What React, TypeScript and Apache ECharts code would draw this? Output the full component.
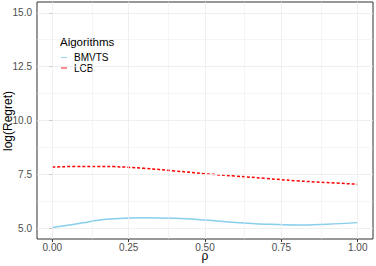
import React, { useEffect, useRef } from "react";
import * as echarts from "echarts";

const rho = [0, 0.1, 0.15, 0.2, 0.3, 0.4, 0.5, 0.6, 0.7, 0.8, 0.9, 1.0];
const bmvts = [5.03, 5.25, 5.37, 5.44, 5.49, 5.46, 5.38, 5.27, 5.19, 5.15, 5.19, 5.26];
const lcb = [7.84, 7.87, 7.87, 7.86, 7.78, 7.66, 7.53, 7.42, 7.31, 7.2, 7.12, 7.04];
const yTicks = [5, 7.5, 10, 12.5, 15];
const xTicks = [0, 0.25, 0.5, 0.75, 1];

const FONT = "Liberation Sans, Arial, sans-serif";

export default function App() {
  const ref = useRef<HTMLDivElement>(null);
  useEffect(() => {
    const chart = echarts.init(ref.current!, null, { renderer: "svg" });
    chart.setOption({
      animation: false,
      textStyle: { fontFamily: FONT },
      grid: {
        left: 37, right: 3, top: 2, bottom: 27, show: true, borderColor: "#333", borderWidth: 1,
        backgroundColor: "#fff", containLabel: false, outerBoundsMode: "none",
      },
      legend: {
        orient: "vertical",
        left: 61,
        top: 52.5,
        padding: 0,
        itemWidth: 6,
        itemHeight: 4,
        itemGap: 0.5,
        icon: "path://M0,0L10,0L10,1.5L0,1.5Z",
        textStyle: { fontSize: 10, lineHeight: 9.5, color: "#000", fontFamily: FONT, padding: [0, 0, 0, 2] },
        data: [
          { name: "BMVTS", itemStyle: { color: "#87CEEB" } },
          { name: "LCB", itemStyle: { color: "#FF0000" } },
        ],
      },
      graphic: [
        { type: "text", left: 60, top: 36, style: { text: "Algorithms", fontSize: 11.5, fill: "#000", fontFamily: FONT } },
        {
          type: "text", x: 8, y: 121, rotation: Math.PI / 2,
          style: { text: "log(Regret)", fontSize: 12, fill: "#000", fontFamily: FONT, align: "center", verticalAlign: "middle" },
        },
        {
          type: "text", x: 205, y: 262,
          style: { text: "ρ", fontSize: 12, lineHeight: 12, fill: "#000", fontFamily: FONT, align: "center", verticalAlign: "bottom" },
        },
      ],
      xAxis: {
        type: "value",
        min: -0.05,
        max: 1.05,
        axisLine: { show: false },
        axisTick: { show: true, length: 3, lineStyle: { color: "#333" }, customValues: xTicks },
        axisLabel: { fontSize: 10, lineHeight: 10, color: "#4d4d4d", margin: 3.5, customValues: xTicks, formatter: (v: number) => v.toFixed(2) },
        splitLine: { show: false },
      },
      yAxis: {
        type: "value",
        min: 4.5,
        max: 15.5,
        axisLine: { show: false },
        axisTick: { show: true, length: 3, lineStyle: { color: "#333" }, customValues: yTicks },
        axisLabel: { fontSize: 10, color: "#4d4d4d", margin: 5, customValues: yTicks, formatter: (v: number) => v.toFixed(1) },
        splitLine: { show: false },
      },
      series: [
        {
          type: "line",
          name: "_grid",
          data: [],
          silent: true,
          markLine: {
            silent: true,
            symbol: "none",
            label: { show: false },
            animation: false,
            data: [
              ...[0, 0.125, 0.25, 0.375, 0.5, 0.625, 0.75, 0.875, 1].map((x) => ({
                xAxis: x,
                lineStyle: { color: "#ebebeb", width: (x * 8) % 2 === 0 ? 0.8 : 0.5, type: "solid" },
              })),
              ...[5, 6.25, 7.5, 8.75, 10, 11.25, 12.5, 13.75, 15].map((y) => ({
                yAxis: y,
                lineStyle: { color: "#ebebeb", width: (y * 4) % 10 === 0 ? 0.8 : 0.5, type: "solid" },
              })),
            ],
          },
        },
        {
          type: "line",
          name: "BMVTS",
          data: rho.map((x, i) => [x, bmvts[i]]),
          smooth: 0.4,
          symbol: "none",
          lineStyle: { color: "#87CEEB", width: 1.5 },
          itemStyle: { color: "#87CEEB" },
        },
        {
          type: "line",
          name: "LCB",
          data: rho.map((x, i) => [x, lcb[i]]),
          smooth: 0.4,
          symbol: "none",
          lineStyle: { color: "#FF0000", width: 1.5, type: [3, 2] },
          itemStyle: { color: "#FF0000" },
        },
      ],
    });
    return () => chart.dispose();
  }, []);
  return <div ref={ref} style={{ width: 376, height: 266, position: "absolute", left: 0, top: 0 }} />;
}
